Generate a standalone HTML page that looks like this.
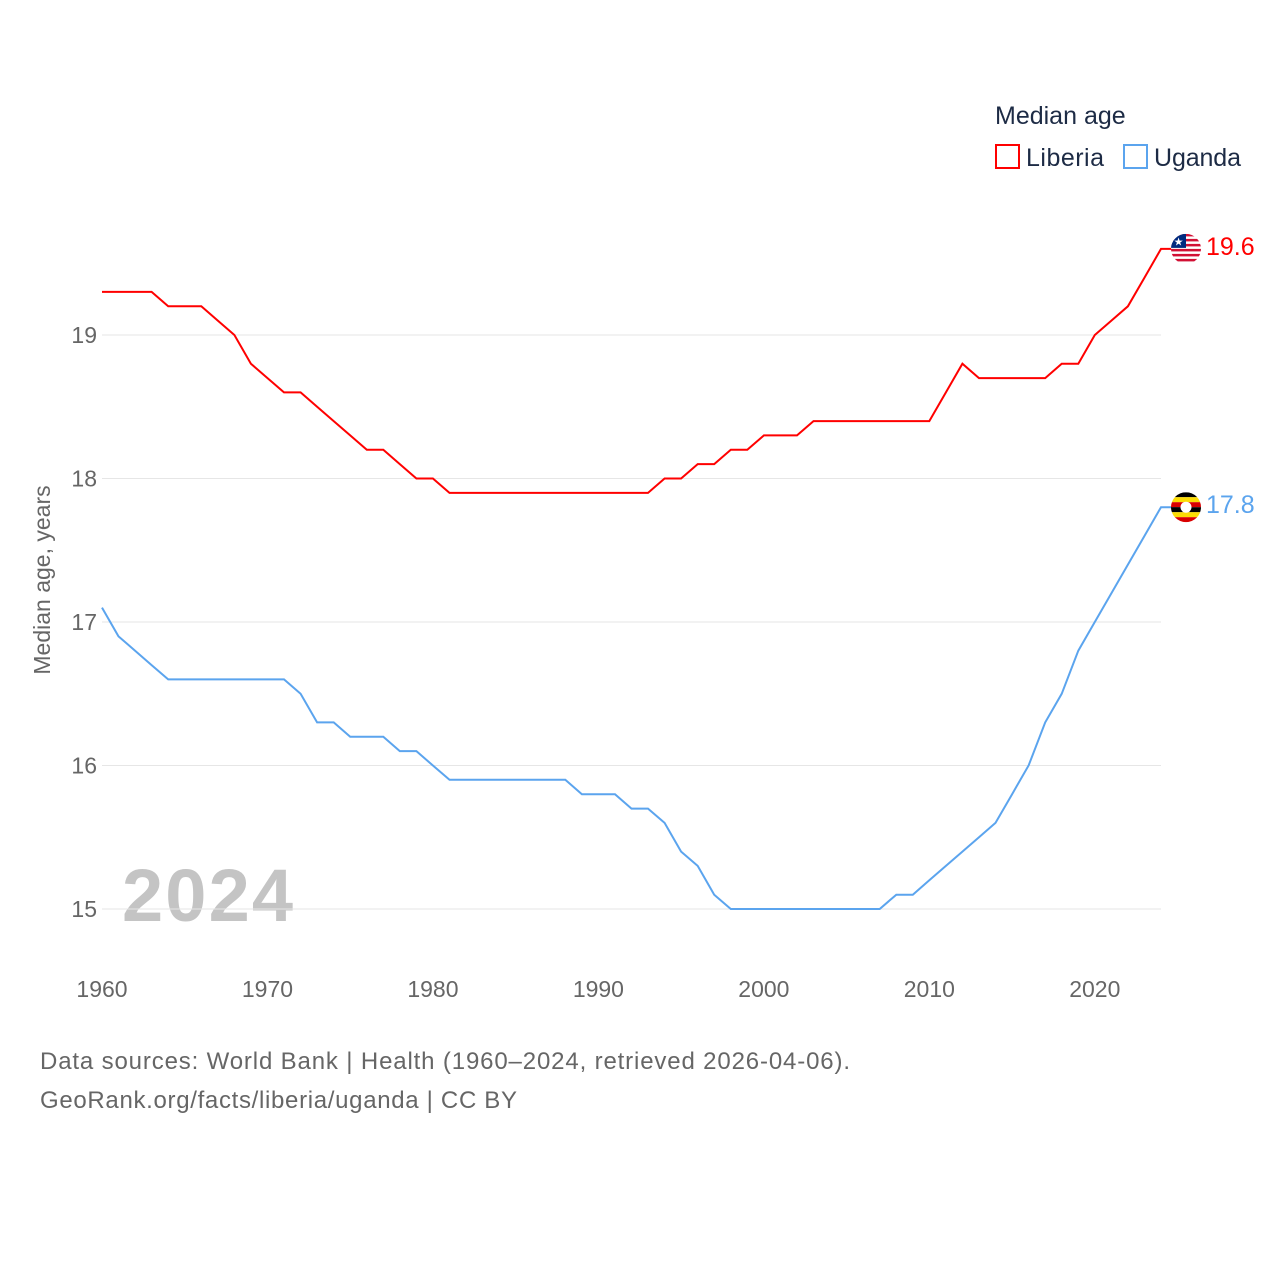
<!DOCTYPE html>
<html><head><meta charset="utf-8"><style>
body{margin:0;background:#fff;font-family:"Liberation Sans",sans-serif}
svg text{font-family:"Liberation Sans",sans-serif}
</style></head><body>
<svg id="c" width="1280" height="1280" viewBox="0 0 1280 1280">
<text x="995" y="124" font-size="25" fill="#1d2b45">Median age</text>
<rect x="996" y="145" width="23" height="23" fill="none" stroke="#ff0000" stroke-width="2"/>
<text x="1026" y="166" font-size="25" fill="#1d2b45" textLength="78">Liberia</text>
<rect x="1124" y="145" width="23" height="23" fill="none" stroke="#5ba4ee" stroke-width="2"/>
<text x="1154" y="166" font-size="25" fill="#1d2b45" textLength="87">Uganda</text>
<text transform="translate(50,580) rotate(-90)" text-anchor="middle" font-size="23" fill="#666">Median age, years</text>
<text x="122" y="921" font-size="74" font-weight="bold" fill="#c4c4c4" textLength="171">2024</text>
<g id="grid"></g><g id="lines"></g>
<text x="40" y="1069" font-size="24" fill="#666" textLength="810">Data sources: World Bank | Health (1960–2024, retrieved 2026-04-06).</text>
<text x="40" y="1108" font-size="24" fill="#666" textLength="477">GeoRank.org/facts/liberia/uganda | CC BY</text>
</svg>
<script>
const years=[];for(let y=1960;y<=2024;y++)years.push(y);
const liberia=[19.3,19.3,19.3,19.3,19.2,19.2,19.2,19.1,19.0,18.8,18.7,18.6,18.6,18.5,18.4,18.3,18.2,18.2,18.1,18.0,18.0,17.9,17.9,17.9,17.9,17.9,17.9,17.9,17.9,17.9,17.9,17.9,17.9,17.9,18.0,18.0,18.1,18.1,18.2,18.2,18.3,18.3,18.3,18.4,18.4,18.4,18.4,18.4,18.4,18.4,18.4,18.6,18.8,18.7,18.7,18.7,18.7,18.7,18.8,18.8,19.0,19.1,19.2,19.4,19.6];
const uganda=[17.1,16.9,16.8,16.7,16.6,16.6,16.6,16.6,16.6,16.6,16.6,16.6,16.5,16.3,16.3,16.2,16.2,16.2,16.1,16.1,16.0,15.9,15.9,15.9,15.9,15.9,15.9,15.9,15.9,15.8,15.8,15.8,15.7,15.7,15.6,15.4,15.3,15.1,15.0,15.0,15.0,15.0,15.0,15.0,15.0,15.0,15.0,15.0,15.1,15.1,15.2,15.3,15.4,15.5,15.6,15.8,16.0,16.3,16.5,16.8,17.0,17.2,17.4,17.6,17.8];
const yTicks=[15,16,17,18,19];
const xTicks=[1960,1970,1980,1990,2000,2010,2020];
const X=v=>102+(v-1960)*(1161-102)/64;
const Y=v=>909-(v-15)*143.5;
const NS='http://www.w3.org/2000/svg';
function mk(t,a,p){const e=document.createElementNS(NS,t);for(const k in a)e.setAttribute(k,a[k]);p.appendChild(e);return e;}
const g=document.getElementById('grid'),L=document.getElementById('lines');
yTicks.forEach(v=>{
 const l=mk('line',{x1:102,x2:1161,y1:Y(v),y2:Y(v),stroke:'#e6e6e6','stroke-width':1},g);
 
 
 const t=mk('text',{x:97,y:Y(v)+8,'text-anchor':'end','font-size':23,fill:'#666'},g);t.textContent=v;
 
 
});
xTicks.forEach(v=>{
 const t=mk('text',{x:X(v),y:997,'text-anchor':'middle','font-size':23,fill:'#666'},g);t.textContent=v;
 
 
});
function series(vals,col,name){
 let d=vals.map((v,i)=>(i?'L':'M')+X(years[i]).toFixed(1)+' '+Y(v).toFixed(1)).join(' ');
 const last=vals[vals.length-1];
 d+=' L1185 '+Y(last).toFixed(1);
 const p=mk('path',{d:d,fill:'none',stroke:col,'stroke-width':2},L);
 
 
 const t=mk('text',{x:1206,y:Y(last)+6,'font-size':25,fill:col},L);t.textContent=last.toFixed(1);
 
 
 return Y(last);
}
const yl=series(liberia,'#ff0000','liberia');
const yu=series(uganda,'#5ba4ee','uganda');
const fl=mk('g',{},L);


mk('circle',{cx:1186,cy:yl,r:15,fill:'#fff'},fl);
for(let i=0;i<6;i++)mk('rect',{x:1171,y:yl-15+i*5,width:30,height:2.5,fill:'#d21034'},fl);
mk('rect',{x:1171,y:yl-15,width:15,height:14,fill:'#002b7f'},fl);
mk('text',{x:1178.5,y:yl-3.5,'font-size':11,fill:'#fff','text-anchor':'middle'},fl).textContent='★';
const fu=mk('g',{},L);


const cols=['#000','#fcdc04','#d90000','#000','#fcdc04','#d90000'];
cols.forEach((c,i)=>mk('rect',{x:1171,y:yu-15+i*5,width:30,height:5,fill:c},fu));
mk('circle',{cx:1186,cy:yu,r:5.5,fill:'#fff'},fu);
[[yl,'cl'],[yu,'cu']].forEach(([y,id],i)=>{
 const cp=mk('clipPath',{id:id},document.getElementById('c'));mk('circle',{cx:1186,cy:y,r:15},cp);
 (i?fu:fl).setAttribute('clip-path','url(#'+id+')');
});
</script>
</body></html>
